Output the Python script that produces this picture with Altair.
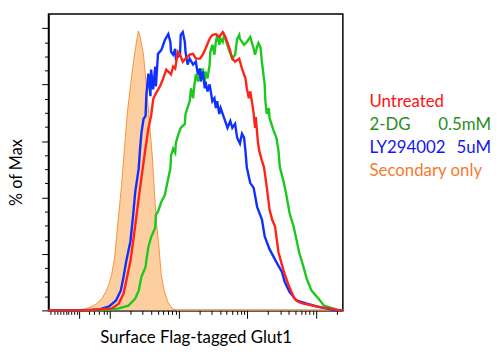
import altair as alt
import pandas as pd

# ---- data: x = log10(fluorescence), y = % of max ----
untreated_x = [1.11, 1.60, 1.85, 1.95, 2.03, 2.13, 2.20, 2.24, 2.30, 2.34, 2.39, 2.44, 2.49, 2.53, 2.56, 2.59, 2.60,
               2.63, 2.67, 2.73, 2.77, 2.82, 2.85, 2.89, 2.92, 2.95, 2.99, 3.02, 3.06, 3.10, 3.16, 3.21, 3.25, 3.31,
               3.35, 3.39, 3.45, 3.49, 3.54, 3.59, 3.64, 3.68, 3.74, 3.78, 3.82, 3.88, 3.92, 3.97, 3.99, 4.02, 4.04,
               4.07, 4.09, 4.11, 4.12, 4.15, 4.17, 4.21, 4.24, 4.28, 4.32, 4.36, 4.40, 4.45, 4.49, 4.53, 4.60, 4.68,
               4.74, 4.81, 4.90, 5.00, 5.10, 5.19, 5.33, 5.385]
untreated_y = [0, 0, 0.3, 0.5, 0.7, 2.4, 5.9, 10.5, 17.5, 24.5, 33.9, 43.4, 52.4, 59.4, 64.3, 67.8, 68.9,
               74.8, 76.9, 79.4, 81.8, 85.3, 84.6, 83.6, 86.4, 85.7, 91.6, 90.6, 88.1, 89.2, 90.6, 90.9, 89.2, 89.2,
               90.6, 92.7, 96.2, 97.6, 97.9, 96.9, 98.6, 96.9, 92.7, 89.2, 88.1, 89.2, 85.7, 82.2, 78.7, 75.2, 77.6,
               73.1, 69.6, 64.7, 68.5, 60.0, 56.6, 53.0, 50.7, 43.7, 35.7, 32.0, 29.7, 20.6, 17.0, 13.6, 8.7, 4.2,
               3.0, 2.4, 2.0, 1.4, 1.0, 0.7, 0, 0]

dg_x = [1.11, 1.85, 1.99, 2.13, 2.27, 2.37, 2.42, 2.46, 2.52, 2.53, 2.56, 2.60, 2.66, 2.67, 2.70, 2.75, 2.80, 2.82,
        2.85, 2.88, 2.89, 2.92, 2.95, 2.96, 2.99, 3.03, 3.09, 3.10, 3.16, 3.18, 3.21, 3.23, 3.25, 3.28, 3.31, 3.32,
        3.35, 3.38, 3.39, 3.42, 3.45, 3.46, 3.49, 3.52, 3.54, 3.56, 3.59, 3.61, 3.64, 3.66, 3.68, 3.74, 3.78, 3.82,
        3.85, 3.88, 3.89, 3.95, 3.99, 4.04, 4.09, 4.11, 4.14, 4.16, 4.19, 4.21, 4.23, 4.25, 4.26, 4.28, 4.31, 4.32,
        4.38, 4.42, 4.45, 4.47, 4.53, 4.57, 4.61, 4.67, 4.71, 4.75, 4.81, 4.86, 4.93, 5.03, 5.11, 5.24, 5.33, 5.385]
dg_y = [0, 0, 0.2, 0.7, 1.7, 4.2, 7.0, 11.9, 15.4, 17.5, 22.4, 25.9, 29.4, 33.9, 35.0, 38.5, 40.9, 43.4,
        46.9, 50.3, 54.9, 57.3, 55.9, 59.4, 61.9, 64.7, 66.1, 69.6, 74.1, 78.7, 75.2, 80.1, 83.6, 81.1, 85.7, 82.2,
        85.7, 81.1, 84.6, 82.2, 87.1, 91.6, 94.1, 90.6, 95.1, 97.6, 94.1, 96.2, 95.1, 97.6, 96.2, 91.6, 89.2, 90.6,
        96.2, 97.6, 96.2, 94.1, 95.1, 96.9, 92.7, 90.6, 93.5, 94.7, 93.0, 88.0, 84.0, 80.0, 74.1, 69.6, 71.7, 68.2,
        63.6, 61.2, 56.6, 50.7, 45.1, 40.2, 34.6, 29.7, 25.2, 20.6, 15.7, 11.2, 7.0, 4.2, 1.7, 0.7, 0, 0]

ly_x = [1.11, 1.60, 1.84, 1.99, 2.09, 2.16, 2.20, 2.24, 2.30, 2.34, 2.37, 2.42, 2.44, 2.46, 2.49, 2.52, 2.53, 2.56,
        2.59, 2.60, 2.63, 2.66, 2.67, 2.70, 2.75, 2.80, 2.85, 2.88, 2.89, 2.92, 2.95, 2.96, 3.02, 3.03, 3.06, 3.09,
        3.10, 3.13, 3.16, 3.21, 3.25, 3.28, 3.31, 3.32, 3.35, 3.38, 3.39, 3.42, 3.45, 3.49, 3.52, 3.54, 3.56, 3.59,
        3.61, 3.66, 3.71, 3.75, 3.78, 3.82, 3.85, 3.89, 3.92, 3.95, 3.97, 3.99, 4.04, 4.09, 4.14, 4.21, 4.25, 4.32,
        4.42, 4.50, 4.54, 4.61, 4.71, 4.86, 5.00, 5.14, 5.29, 5.385]
ly_y = [0, 0, 0.3, 1.4, 3.5, 7.0, 11.9, 17.5, 24.5, 33.9, 42.0, 50.3, 57.3, 62.9, 67.8, 68.9, 75.9, 83.9,
        75.9, 85.3, 78.3, 86.4, 79.4, 90.9, 92.3, 95.8, 97.9, 95.1, 91.6, 90.6, 92.7, 89.2, 90.6, 97.6, 98.6, 95.1,
        91.6, 87.1, 89.2, 87.1, 88.1, 83.6, 85.7, 81.1, 84.6, 78.7, 81.1, 77.6, 80.1, 74.1, 75.2, 71.7, 74.1, 69.6,
        71.7, 68.2, 64.7, 67.1, 64.7, 66.1, 61.2, 59.1, 62.6, 61.2, 56.6, 50.7, 45.1, 43.4, 36.7, 32.2, 26.2, 21.7,
        17.1, 13.6, 10.1, 6.6, 3.5, 2.4, 1.4, 0.7, 0, 0]

sec_x = [1.555, 1.656, 1.742, 1.813, 1.885, 1.943, 1.986, 2.029, 2.072, 2.115, 2.172, 2.215, 2.258, 2.301, 2.344,
         2.387, 2.416, 2.445, 2.488, 2.531, 2.574, 2.617, 2.646, 2.674, 2.717, 2.746, 2.789, 2.846, 2.904, 2.961, 5.385]
sec_y = [0, 0.7, 1.4, 2.4, 4.2, 6.6, 9.1, 12.9, 18.9, 30.4, 44.4, 58.0, 70.6, 79.7, 88.1,
         95.1, 99.0, 96.5, 90.9, 79.7, 67.1, 54.9, 42.7, 32.2, 21.7, 12.9, 7.0, 2.8, 0.7, 0, 0]

# axis ticks (log10 positions; no labels in the original)
x_ticks = [1.139, 1.197, 1.240, 1.283, 1.326, 1.369, 1.397, 1.440, 1.483, 1.527, 1.555, 1.699, 1.770, 1.842,
           1.914, 1.957,
           2, 2.301, 2.477, 2.602, 2.699, 2.778, 2.845, 2.903, 2.954,
           3, 3.301, 3.477, 3.602, 3.699, 3.778, 3.845, 3.903, 3.954,
           4, 4.301, 4.477, 4.602, 4.699, 4.778, 4.845, 4.903, 4.954,
           5, 5.301]
y_ticks = [0, 5, 10, 15, 20, 25, 30, 35, 40, 45, 50, 55, 60, 65, 70, 75, 80, 85, 90, 95, 100]

legend_left = ["Untreated", "2-DG", "LY294002", "Secondary only"]
legend_right = ["", "0.5mM", "5uM", ""]
legend_colors = ["#FF1010", "#2A8C1E", "#1414F5", "#F47A32"]

FONT = "Lato"

x_enc = alt.X("x:Q", scale=alt.Scale(domain=[1.11, 5.385], nice=False, zero=False),
              axis=alt.Axis(values=x_ticks, labels=False, grid=False, domainColor="black", domainWidth=1.5,
                            tickColor="black", tickWidth=1,
                            tickSize={"condition": {"test": "abs(datum.value - round(datum.value)) < 0.001 || abs(datum.value - 1.555) < 0.001", "value": 8}, "value": 4},
                            title="Surface Flag-tagged Glut1", titleFont=FONT, titleFontSize=17,
                            titleFontWeight="normal", titleColor="black", titleY=33,
                            titleBaseline="alphabetic"))
y_enc = alt.Y("y:Q", scale=alt.Scale(domain=[0, 105], nice=False, zero=True),
              axis=alt.Axis(values=y_ticks, labels=False, grid=False, domainColor="black", domainWidth=1.5,
                            tickColor="black", tickWidth=1,
                            tickSize={"condition": {"test": "datum.value % 20 === 0", "value": 7}, "value": 4},
                            title="% of Max", titleFont=FONT, titleFontSize=16.5, titleFontWeight="normal",
                            titleColor="black", titleAngle=-90, titleX=-24, titleY=160,
                            titleAlign="center", titleBaseline="bottom"))


def df(xs, ys):
    return pd.DataFrame({"x": xs, "y": ys})


sec_area = alt.Chart(df(sec_x, sec_y)).mark_area(color="#FDCFA0", opacity=1).encode(x=x_enc, y=y_enc)
sec_line = alt.Chart(df(sec_x, sec_y)).mark_line(color="#F7923F", strokeWidth=1).encode(x=x_enc, y=y_enc)
green = alt.Chart(df(dg_x, dg_y)).mark_line(color="#1DC81D", strokeWidth=2.4).encode(x=x_enc, y=y_enc)
blue = alt.Chart(df(ly_x, ly_y)).mark_line(color="#1030FF", strokeWidth=2.4).encode(x=x_enc, y=y_enc)
red = alt.Chart(df(untreated_x, untreated_y)).mark_line(color="#FF2318", strokeWidth=2.4).encode(x=x_enc, y=y_enc)

legend_rows_y = [94.5, 117.5, 141, 164]
texts = []
for i in range(4):
    texts.append(alt.Chart(pd.DataFrame({"t": [legend_left[i]]})).mark_text(
        align="left", baseline="alphabetic", font=FONT, fontSize=17, color=legend_colors[i]
    ).encode(text="t:N", x=alt.value(325), y=alt.value(legend_rows_y[i])))
    if legend_right[i]:
        texts.append(alt.Chart(pd.DataFrame({"t": [legend_right[i]]})).mark_text(
            align="right", baseline="alphabetic", font=FONT, fontSize=17, color=legend_colors[i]
        ).encode(text="t:N", x=alt.value(448), y=alt.value(legend_rows_y[i])))

chart = alt.layer(sec_area, sec_line, green, blue, red, *texts).properties(
    width=298, height=300,
    padding={"left": 41, "top": 4, "right": 152, "bottom": 40},
    autosize=alt.AutoSizeParams(type="none"),
).configure(background="white").configure_view(stroke="black", strokeWidth=1.5)

chart.save("out.html", embed_options={"renderer": "svg", "actions": False})
